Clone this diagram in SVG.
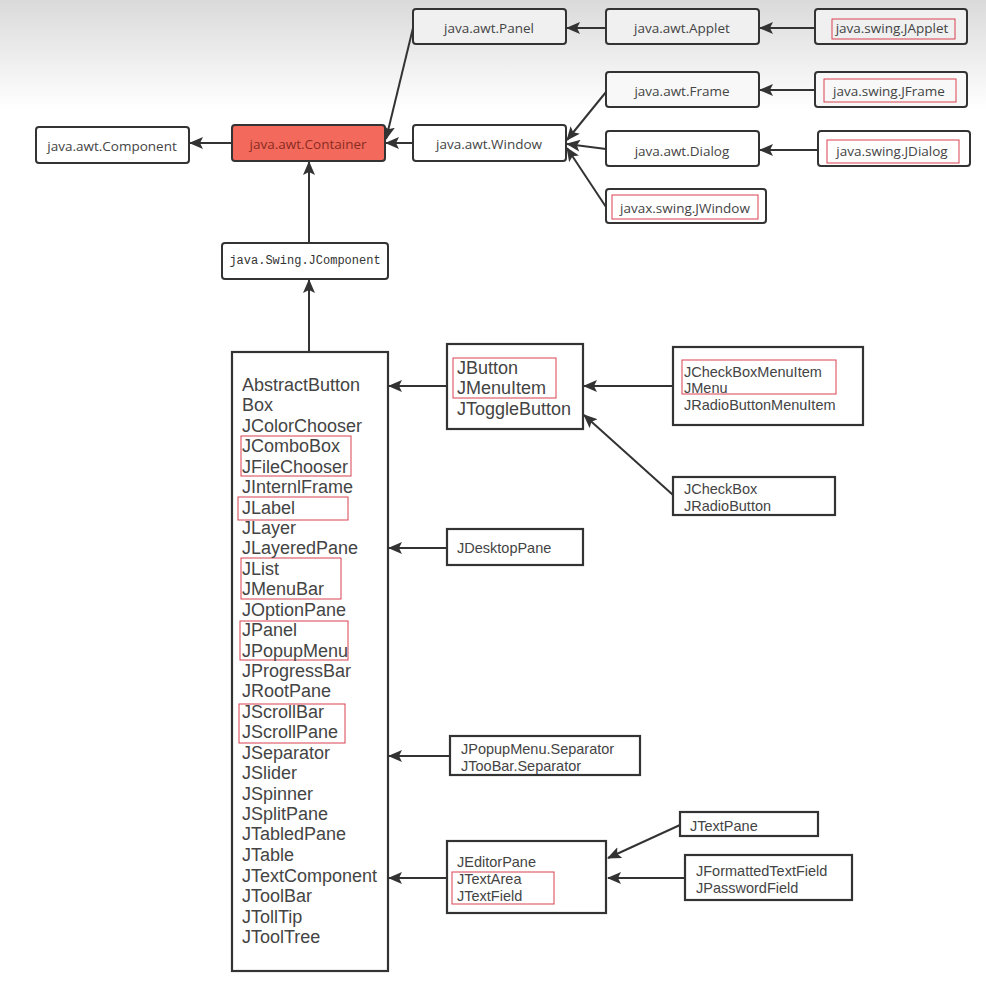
<svg xmlns="http://www.w3.org/2000/svg" width="986" height="981" viewBox="0 0 986 981">
<defs>
<linearGradient id="bg" x1="0" y1="0" x2="0" y2="1">
<stop offset="0" stop-color="#dadada"/>
<stop offset="1" stop-color="#ffffff"/>
</linearGradient>
<marker id="arr" markerUnits="userSpaceOnUse" markerWidth="14" markerHeight="12" refX="13" refY="6" orient="auto">
<path d="M0,0 L14,6 L0,12 L3,6 Z" fill="#333"/>
</marker>
<style>
.n{fill:#fff;stroke:#333;stroke-width:2}
.t{fill:#fff;stroke:#333;stroke-width:2.2}
.red{fill:none;stroke:#d9414f;stroke-width:1}
.lbl{font-family:"Open Sans","Noto Sans",sans-serif;font-size:13.5px;fill:#444;text-anchor:middle;dominant-baseline:central}
.big{font-family:"Liberation Sans",Arial,sans-serif;font-size:18px;fill:#444}
.sm{font-family:"Liberation Sans",Arial,sans-serif;font-size:14.5px;fill:#444}
.mono{font-family:"Liberation Mono",monospace;font-size:12px;fill:#333;text-anchor:middle;dominant-baseline:central}
.c{fill:none;stroke:#333;stroke-width:2;marker-end:url(#arr)}
</style>
</defs>
<rect x="0" y="0" width="986" height="981" fill="#fff"/>
<rect x="0" y="0" width="986" height="110" fill="url(#bg)"/>

<g id="connectors">
<line class="c" x1="232" y1="143" x2="190" y2="143"/>
<line class="c" x1="413" y1="143" x2="386" y2="143"/>
<line class="c" x1="413" y1="28" x2="386" y2="139"/>
<line class="c" x1="606" y1="28" x2="567" y2="28"/>
<line class="c" x1="815" y1="28" x2="760" y2="28"/>
<line class="c" x1="606" y1="92" x2="567" y2="140"/>
<line class="c" x1="606" y1="149" x2="567" y2="144"/>
<line class="c" x1="606" y1="207" x2="567" y2="148"/>
<line class="c" x1="815" y1="90" x2="760" y2="90"/>
<line class="c" x1="818" y1="150" x2="760" y2="150"/>
<line class="c" x1="309" y1="243" x2="309" y2="162"/>
<line class="c" x1="309" y1="352" x2="309" y2="280"/>
<line class="c" x1="447" y1="386" x2="389" y2="386"/>
<line class="c" x1="673" y1="386" x2="584" y2="386"/>
<line class="c" x1="673" y1="495" x2="584" y2="415"/>
<line class="c" x1="447" y1="548" x2="389" y2="548"/>
<line class="c" x1="450" y1="756" x2="389" y2="756"/>
<line class="c" x1="447" y1="878" x2="389" y2="878"/>
<line class="c" x1="680" y1="825" x2="608" y2="858"/>
<line class="c" x1="685" y1="878" x2="608" y2="878"/>
</g>

<g id="component"><rect class="n" x="36" y="127" width="153" height="36" rx="3"/><text class="lbl" x="112" y="146">java.awt.Component</text></g>
<g id="container"><rect x="232" y="125" width="153" height="36" rx="3" fill="#f36a5c" stroke="#333" stroke-width="2"/><text class="lbl" x="308" y="144" style="fill:#8a2a22">java.awt.Container</text></g>
<g id="window"><rect class="n" x="413" y="125" width="153" height="36" rx="3"/><text class="lbl" x="489" y="144">java.awt.Window</text></g>
<g id="panel"><rect class="n" x="413" y="9" width="153" height="35" rx="3" style="fill:#f0f0f0"/><text class="lbl" x="489" y="28">java.awt.Panel</text></g>
<g id="applet"><rect class="n" x="606" y="9" width="153" height="35" rx="3" style="fill:#f0f0f0"/><text class="lbl" x="682" y="28">java.awt.Applet</text></g>
<g id="japplet"><rect class="n" x="815" y="9" width="152" height="35" rx="3" style="fill:#f0f0f0"/><rect class="red" x="832" y="19" width="123" height="20"/><text class="lbl" x="892" y="28">java.swing.JApplet</text></g>
<g id="frame"><rect class="n" x="606" y="72" width="153" height="35" rx="3" style="fill:#f8f8f8"/><text class="lbl" x="682" y="91">java.awt.Frame</text></g>
<g id="jframe"><rect class="n" x="815" y="72" width="152" height="35" rx="3" style="fill:#f8f8f8"/><rect class="red" x="824" y="79" width="132" height="23"/><text class="lbl" x="889" y="91">java.swing.JFrame</text></g>
<g id="dialog"><rect class="n" x="606" y="131" width="153" height="35" rx="3"/><text class="lbl" x="682" y="151">java.awt.Dialog</text></g>
<g id="jdialog"><rect class="n" x="818" y="131" width="152" height="35" rx="3"/><rect class="red" x="827" y="140" width="132" height="23"/><text class="lbl" x="892" y="151">java.swing.JDialog</text></g>
<g id="jwindow"><rect class="n" x="606" y="189" width="160" height="34" rx="3"/><rect class="red" x="612" y="195" width="146" height="24"/><text class="lbl" x="685" y="208">javax.swing.JWindow</text></g>
<g id="jcomponent"><rect class="n" x="222" y="243" width="166" height="36" rx="3"/><text class="mono" x="305" y="261">java.Swing.JComponent</text></g>

<g id="swingList">
<rect class="t" x="232" y="352" width="156" height="619"/>
<rect class="red" x="241" y="436" width="110" height="40"/>
<rect class="red" x="238" y="497" width="110" height="23"/>
<rect class="red" x="241" y="558" width="100" height="41"/>
<rect class="red" x="240" y="621" width="108" height="39"/>
<rect class="red" x="239" y="704" width="106" height="39"/>
<g class="big">
<text x="242" y="391">AbstractButton</text>
<text x="242" y="411">Box</text>
<text x="242" y="432">JColorChooser</text>
<text x="242" y="452">JComboBox</text>
<text x="242" y="473">JFileChooser</text>
<text x="242" y="493">JInternlFrame</text>
<text x="242" y="514">JLabel</text>
<text x="242" y="534">JLayer</text>
<text x="242" y="554">JLayeredPane</text>
<text x="242" y="575">JList</text>
<text x="242" y="595">JMenuBar</text>
<text x="242" y="616">JOptionPane</text>
<text x="242" y="636">JPanel</text>
<text x="242" y="657">JPopupMenu</text>
<text x="242" y="677">JProgressBar</text>
<text x="242" y="697">JRootPane</text>
<text x="242" y="718">JScrollBar</text>
<text x="242" y="738">JScrollPane</text>
<text x="242" y="759">JSeparator</text>
<text x="242" y="779">JSlider</text>
<text x="242" y="800">JSpinner</text>
<text x="242" y="820">JSplitPane</text>
<text x="242" y="840">JTabledPane</text>
<text x="242" y="861">JTable</text>
<text x="242" y="882">JTextComponent</text>
<text x="242" y="902">JToolBar</text>
<text x="242" y="923">JTollTip</text>
<text x="242" y="943">JToolTree</text>
</g>
</g>

<g id="buttons">
<rect class="t" x="447" y="344" width="136" height="85"/>
<rect class="red" x="453" y="358" width="103" height="40"/>
<g class="big"><text x="457" y="374">JButton</text><text x="457" y="394">JMenuItem</text><text x="457" y="415">JToggleButton</text></g>
</g>

<g id="menuItems">
<rect class="t" x="673" y="347" width="190" height="78"/>
<rect class="red" x="682" y="360" width="154" height="34"/>
<g class="sm"><text x="684" y="377">JCheckBoxMenuItem</text><text x="684" y="393">JMenu</text><text x="684" y="410">JRadioButtonMenuItem</text></g>
</g>

<g id="checkBox">
<rect class="t" x="673" y="477" width="162" height="38"/>
<g class="sm"><text x="684" y="494">JCheckBox</text><text x="684" y="511">JRadioButton</text></g>
</g>

<g id="desktopPane">
<rect class="t" x="447" y="529" width="136" height="36"/>
<text class="sm" x="457" y="553">JDesktopPane</text>
</g>

<g id="separators">
<rect class="t" x="450" y="736" width="190" height="39"/>
<g class="sm"><text x="461" y="754">JPopupMenu.Separator</text><text x="461" y="771">JTooBar.Separator</text></g>
</g>

<g id="textComponents">
<rect class="t" x="447" y="841" width="159" height="72"/>
<rect class="red" x="452" y="872" width="102" height="32"/>
<g class="sm"><text x="457" y="867">JEditorPane</text><text x="457" y="884">JTextArea</text><text x="457" y="901">JTextField</text></g>
</g>

<g id="textPane">
<rect class="t" x="680" y="812" width="138" height="24"/>
<text class="sm" x="690" y="831">JTextPane</text>
</g>

<g id="textFields">
<rect class="t" x="685" y="855" width="167" height="45"/>
<g class="sm"><text x="696" y="876">JFormattedTextField</text><text x="696" y="893">JPasswordField</text></g>
</g>
</svg>
